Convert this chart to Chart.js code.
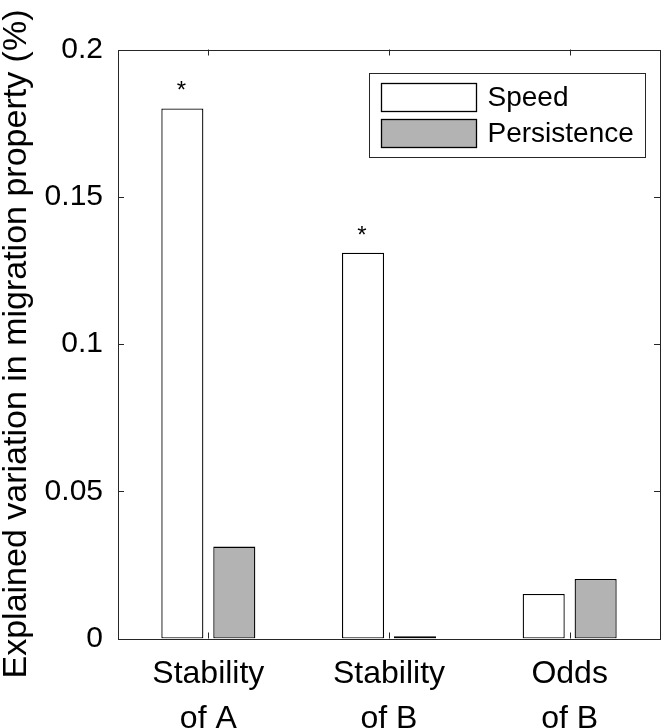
<!DOCTYPE html>
<html>
<head>
<meta charset="utf-8">
<script src="https://cdn.jsdelivr.net/npm/chart.js@4.4.1/dist/chart.umd.min.js"></script>
<style>
  html, body { margin: 0; padding: 0; background: #fff; }
  #wrap { width: 664px; height: 728px; }
</style>
</head>
<body>
<div id="wrap"><canvas id="myChart" width="664" height="728"></canvas></div>
<script>
// data
const categories = [['Stability', 'of A'], ['Stability', 'of B'], ['Odds', 'of B']];
const speedValues = [0.18, 0.131, 0.0151];
const persistenceValues = [0.0312, 0.0008, 0.0202];
const speedSignificant = [true, true, false];
const yTicks = [0, 0.05, 0.1, 0.15, 0.2];

const axisColor = '#262626';
const fontFamily = '"Liberation Sans", Arial, Helvetica, sans-serif';

// draws the box round the axes and the inward ticks
const frameTicks = {
  id: 'frameTicks',
  afterDatasetsDraw(chart) {
    const { ctx, chartArea: a, scales } = chart;
    const len = 6;
    ctx.save();
    ctx.strokeStyle = axisColor;
    ctx.lineWidth = 1;
    ctx.beginPath();
    scales.y.ticks.forEach(t => {
      const py = Math.round(scales.y.getPixelForValue(t.value)) + 0.5;
      ctx.moveTo(a.left, py); ctx.lineTo(a.left + len, py);
      ctx.moveTo(a.right, py); ctx.lineTo(a.right - len, py);
    });
    categories.forEach((c, i) => {
      const px = Math.round(scales.x.getPixelForValue(i)) + 0.5;
      ctx.moveTo(px, a.bottom); ctx.lineTo(px, a.bottom - len);
      ctx.moveTo(px, a.top); ctx.lineTo(px, a.top + len);
    });
    ctx.stroke();
    ctx.strokeRect(Math.round(a.left) + 0.5, Math.round(a.top) + 0.5,
      Math.round(a.right - a.left), Math.round(a.bottom - a.top));
    ctx.restore();
  }
};

// asterisks over the significant speed bars
const stars = {
  id: 'stars',
  afterDatasetsDraw(chart) {
    const { ctx } = chart;
    const meta = chart.getDatasetMeta(0);
    ctx.save();
    ctx.fillStyle = '#000';
    ctx.font = '24px ' + fontFamily;
    ctx.textAlign = 'center';
    ctx.textBaseline = 'alphabetic';
    meta.data.forEach((bar, i) => {
      if (speedSignificant[i]) ctx.fillText('*', bar.x - 1, bar.y - 10);
    });
    ctx.restore();
  }
};

// legend box inside the plot, top right
const boxLegend = {
  id: 'boxLegend',
  afterDraw(chart) {
    const { ctx, chartArea: a } = chart;
    const sets = chart.data.datasets;
    const swW = 95, swH = 28, rowH = 36, padX = 12, gap = 11;
    ctx.save();
    ctx.font = '28px ' + fontFamily;
    let textW = 0;
    sets.forEach(d => { textW = Math.max(textW, ctx.measureText(d.label).width); });
    const w = padX + swW + gap + textW + 12;
    const h = 84;
    const right = a.right - 15;
    const left = Math.round(right - w) + 0.5;
    const top = Math.round(a.top + 23) + 0.5;
    ctx.fillStyle = '#fff';
    ctx.fillRect(left, top, w, h);
    ctx.strokeStyle = axisColor;
    ctx.lineWidth = 1;
    ctx.strokeRect(left, top, Math.round(w), h);
    sets.forEach((d, i) => {
      const sy = Math.round(top + 9 + i * rowH) + 0.5;
      ctx.fillStyle = d.backgroundColor;
      ctx.fillRect(left + padX, sy, swW, swH);
      ctx.strokeStyle = '#000';
      ctx.lineWidth = 1.3;
      ctx.strokeRect(left + padX, sy, swW, swH);
      ctx.fillStyle = '#000';
      ctx.textBaseline = 'middle';
      ctx.fillText(d.label, left + padX + swW + gap, sy + swH / 2 + 1);
    });
    ctx.restore();
  }
};

new Chart(document.getElementById('myChart'), {
  type: 'bar',
  data: {
    labels: categories,
    datasets: [
      {
        label: 'Speed',
        data: speedValues,
        backgroundColor: '#ffffff',
        borderColor: '#000000',
        borderWidth: 1.3,
        borderSkipped: false
      },
      {
        label: 'Persistence',
        data: persistenceValues,
        backgroundColor: '#b3b3b3',
        borderColor: '#000000',
        borderWidth: 1.3,
        borderSkipped: false
      }
    ]
  },
  options: {
    responsive: false,
    animation: false,
    devicePixelRatio: 1,
    categoryPercentage: 0.575,
    barPercentage: 0.81,
    layout: { padding: { top: 49.5, right: 4, left: 0, bottom: 0 } },
    plugins: {
      legend: { display: false },
      tooltip: { enabled: false }
    },
    scales: {
      x: {
        offset: true,
        grid: { display: false, drawTicks: false },
        border: { display: false },
        ticks: {
          color: '#000',
          padding: 13,
          font: { family: fontFamily, size: 32, lineHeight: 1.4 },
          maxRotation: 0
        },
        afterFit(scale) { scale.height = 89.5; }
      },
      y: {
        min: 0,
        max: 0.2,
        grid: { display: false, drawTicks: false },
        border: { display: false },
        afterBuildTicks(scale) { scale.ticks = yTicks.map(v => ({ value: v })); },
        ticks: {
          color: '#000',
          padding: 15,
          font: { family: fontFamily, size: 30 },
          callback: v => String(v)
        },
        title: {
          display: true,
          text: 'Explained variation in migration property (%)',
          color: '#000',
          padding: { top: 0, bottom: 0 },
          font: { family: fontFamily, size: 34, lineHeight: 1 }
        },
        afterFit(scale) { scale.width = 118; }
      }
    }
  },
  plugins: [frameTicks, stars, boxLegend]
});
</script>
</body>
</html>
